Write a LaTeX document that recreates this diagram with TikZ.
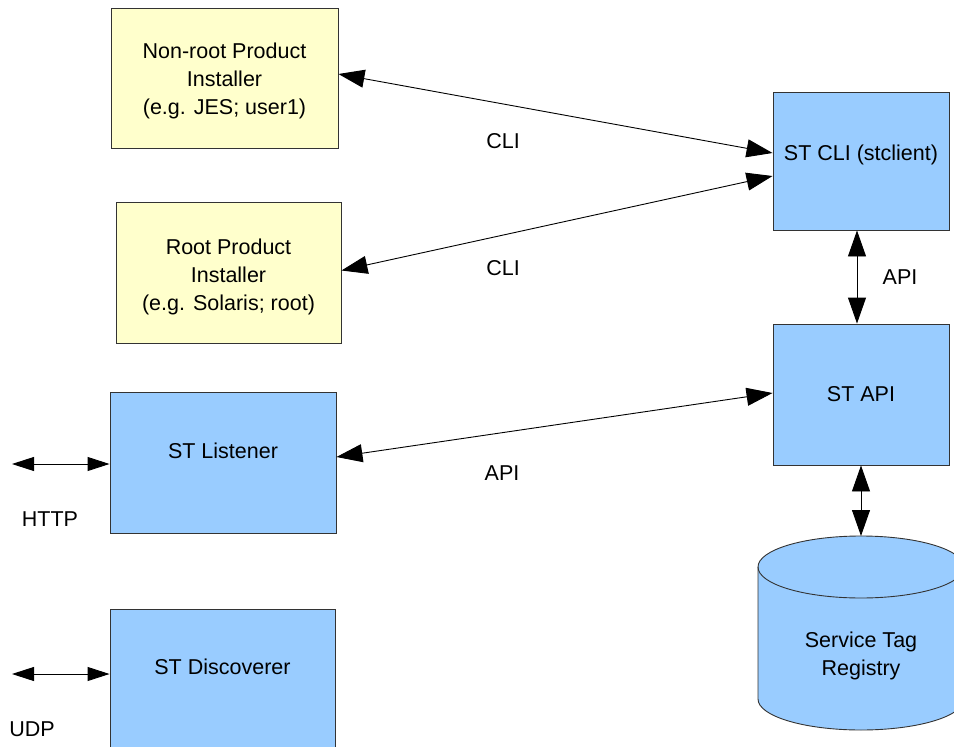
\documentclass[tikz,border=0pt]{standalone}
\usepackage{fontspec}
\setmainfont{Liberation Sans}
\usetikzlibrary{arrows.meta}
\definecolor{boxyellow}{HTML}{FFFFCC}
\definecolor{boxblue}{HTML}{99CCFF}
\definecolor{edge}{HTML}{333333}
\begin{document}
\begin{tikzpicture}[x=1pt,y=-1pt,
  every node/.style={font=\fontsize{21.5pt}{28pt}\selectfont},
  every label/.style={align=center,inner sep=0pt},
  ybox/.style={draw=edge,line width=0.9pt,fill=boxyellow,align=center,inner sep=0pt},
  bbox/.style={draw=edge,line width=0.9pt,fill=boxblue,align=center,inner sep=0pt},
  link/.style={line width=0.9pt,{Triangle[length=26pt,width=18pt]}-{Triangle[length=26pt,width=18pt]}},
  slink/.style={line width=0.9pt,{Triangle[length=22pt,width=14pt]}-{Triangle[length=22pt,width=14pt]}},
  lbl/.style={inner sep=0pt}]
\useasboundingbox (0,0) rectangle (954,747);
\clip (0,0) rectangle (954,747);

% boxes
\node[ybox,minimum width=227pt,minimum height=140pt,
  label={[name=nonroottext,yshift=-3pt]center:Non-root Product\\Installer\\(e.g. JES; user1)}]
  (nonroot) at (224.5,78) {};
\node[ybox,minimum width=225pt,minimum height=141pt,
  label={[name=roottext,yshift=-4pt]center:Root Product\\Installer\\(e.g. Solaris; root)}]
  (root) at (228.5,272.5) {};
\node[bbox,minimum width=226pt,minimum height=141pt,text height=16pt,text depth=25pt] (listener) at (223,462.5)
  {ST Listener};
\node[bbox,minimum width=225pt,minimum height=140pt,text height=16pt,text depth=26pt] (disc) at (222.5,679)
  {ST Discoverer};
\node[bbox,minimum width=176pt,minimum height=138pt,text height=16pt,text depth=18pt] (cli) at (861,161)
  {ST CLI (stclient)};
\node[bbox,minimum width=176pt,minimum height=141pt] (api) at (861,394.5)
  {ST API};

% cylinder (Service Tag Registry)
\path[draw=edge,line width=0.9pt,fill=boxblue]
  (758,567) -- (758,699)
  arc[start angle=180,end angle=360,x radius=103pt,y radius=31pt]
  -- (964,567)
  arc[start angle=0,end angle=180,x radius=103pt,y radius=31pt] -- cycle;
\draw[edge,line width=0.9pt] (758,567) arc[start angle=180,end angle=360,x radius=103pt,y radius=31pt];
\coordinate (regtop) at (861,536);
\node[align=center,inner sep=0pt] (reg) at (861,656) {Service Tag\\Registry};

% free ends
\coordinate (httpend) at (12,464);
\coordinate (udpend) at (12,674);

% connectors
\draw[link] ([yshift=4pt]nonroot.east) -- ([yshift=8pt]cli.west);
\draw[link] ([yshift=2pt]root.east) -- ([yshift=-15pt]cli.west);
\draw[link] ([yshift=5.5pt]listener.east) -- ([yshift=1.5pt]api.west);
\draw[link] ([xshift=-4pt]cli.south) -- ([xshift=-4pt]api.north);
\draw[link] (api.south) -- (regtop);
\draw[slink] (httpend) -- ([yshift=-1.5pt]listener.west);
\draw[slink] (udpend) -- ([yshift=5pt]disc.west);

% labels
\node[lbl] (l1) at (503,141) {CLI};
\node[lbl] (l2) at (503,268) {CLI};
\node[lbl] (l3) at (900,277) {API};
\node[lbl] (l4) at (502,473) {API};
\node[lbl] (l5) at (50,519) {HTTP};
\node[lbl] (l6) at (32,729) {UDP};
\end{tikzpicture}
\end{document}
